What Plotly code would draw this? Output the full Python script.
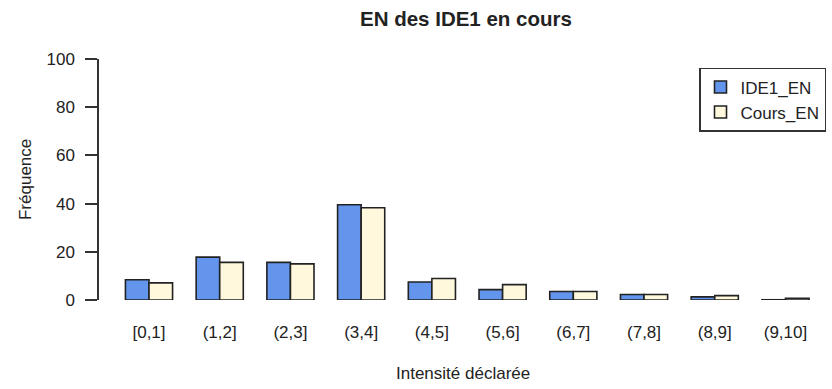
import plotly.graph_objects as go

# Frequency (%) of declared intensity, by interval
categories = ["[0,1]", "(1,2]", "(2,3]", "(3,4]", "(4,5]",
              "(5,6]", "(6,7]", "(7,8]", "(8,9]", "(9,10]"]
ide1_en = [8.4, 17.8, 15.6, 39.5, 7.5, 4.3, 3.5, 2.3, 1.3, 0.1]
cours_en = [7.1, 15.6, 15.0, 38.3, 8.9, 6.4, 3.5, 2.3, 1.8, 0.7]
y_ticks = [0, 20, 40, 60, 80, 100]

FONT = "Liberation Sans, Arial, sans-serif"
TEXT = "#222222"
EDGE = "#222222"

fig = go.Figure()
fig.add_trace(go.Bar(
    x=categories, y=ide1_en, name="IDE1_EN",
    marker=dict(color="#6495ED", line=dict(color=EDGE, width=1.6)),
    cliponaxis=False,
))
fig.add_trace(go.Bar(
    x=categories, y=cours_en, name="Cours_EN",
    marker=dict(color="#FFF8DC", line=dict(color=EDGE, width=1.6)),
    cliponaxis=False,
))

fig.update_layout(
    width=832, height=389,
    margin=dict(l=99, r=6, t=59, b=89),
    paper_bgcolor="white", plot_bgcolor="white",
    barmode="group", bargap=1/3, bargroupgap=0,
    font=dict(family=FONT, size=17, color=TEXT),
    showlegend=True,
    legend=dict(
        x=1, xanchor="right", y=0.963, yanchor="top",
        bgcolor="white", bordercolor="#333333", borderwidth=1.5,
        font=dict(family=FONT, size=17, color=TEXT),
        tracegroupgap=0, entrywidth=130, entrywidthmode="pixels",
    ),
    xaxis=dict(
        range=[-0.707, 9.573],
        showline=False, showgrid=False, zeroline=False,
        ticks="", ticklabelstandoff=20,
        tickfont=dict(family=FONT, size=17, color=TEXT),
    ),
    yaxis=dict(
        range=[0, 100],
        tickvals=y_ticks,
        showline=True, linecolor="#333333", linewidth=1.5,
        showgrid=False, zeroline=False,
        ticks="outside", ticklen=12, tickwidth=1.5, tickcolor="#333333",
        ticklabelstandoff=7,
        tickfont=dict(family=FONT, size=17, color=TEXT),
    ),
    annotations=[
        dict(text="<b>EN des IDE1 en cours</b>", xref="paper", yref="paper",
             x=0.5055, y=1.17, xanchor="center", yanchor="middle",
             showarrow=False, font=dict(family=FONT, size=20.5, color=TEXT)),
        dict(text="Fréquence", xref="paper", yref="paper",
             x=-0.1018, y=0.502, xanchor="center", yanchor="middle",
             textangle=-90, showarrow=False,
             font=dict(family=FONT, size=17, color=TEXT)),
        dict(text="Intensité déclarée", xref="paper", yref="paper",
             x=0.5, y=-0.307, xanchor="center", yanchor="middle",
             showarrow=False, font=dict(family=FONT, size=17, color=TEXT)),
    ],
)

fig.write_html("out.html")
